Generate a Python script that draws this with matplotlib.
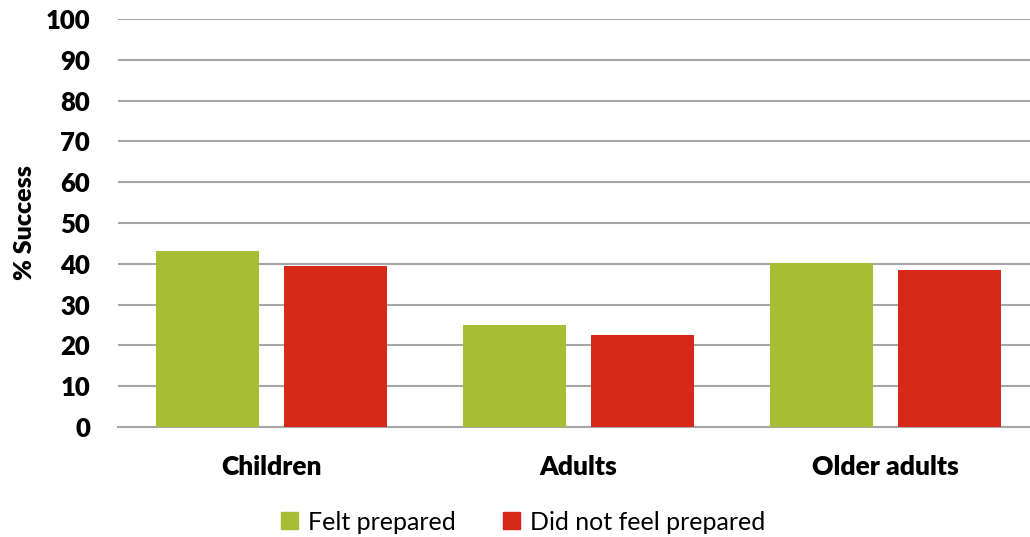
import matplotlib
matplotlib.use("Agg")
import matplotlib.pyplot as plt
import numpy as np
from matplotlib.patches import Patch

categories = ["Children", "Adults", "Older adults"]
felt_prepared = [43.2, 25.0, 40.3]
not_prepared = [39.5, 22.5, 38.6]
series_names = ["Felt prepared", "Did not feel prepared"]
y_ticks = [0, 10, 20, 30, 40, 50, 60, 70, 80, 90, 100]

green = "#A6BD34"
red = "#D62917"
grid_c = "#A6A6A6"

plt.rcParams['font.family'] = ['Lato', 'DejaVu Sans']

fig = plt.figure(figsize=(10.3, 5.37), dpi=100)
ax = fig.add_axes([118/1030, 110/537, 912/1030, 408/537])

x = np.arange(len(categories))
w = 0.335
off = 0.208
ax.bar(x - off, felt_prepared, w, color=green, zorder=3)
ax.bar(x + off, not_prepared, w, color=red, zorder=3)

ax.set_ylim(0, 100)
ax.set_xlim(-0.5, -0.5 + 912/307)
ax.set_yticks(y_ticks)
ax.set_yticklabels([str(t) for t in y_ticks], fontsize=18.5, fontweight='heavy')
ax.set_xticks(x)
ax.set_xticklabels(categories, fontsize=19, fontweight='heavy')
ax.tick_params(axis='y', length=0, pad=20)
ax.tick_params(axis='x', length=0, pad=20)
ax.yaxis.grid(True, color=grid_c, linewidth=1.5, zorder=0)
for s in ['left', 'right', 'top']:
    ax.spines[s].set_visible(False)
ax.spines['bottom'].set_color(grid_c)
ax.spines['bottom'].set_linewidth(1.5)
ax.set_ylabel("% Success", fontsize=18, fontweight='heavy', labelpad=7)

handles = [Patch(color=green), Patch(color=red)]
fig.legend(handles, series_names, loc='center', bbox_to_anchor=(523/1030, 1 - 522/537),
           ncol=2, frameon=False, fontsize=18, handlelength=0.68, handleheight=0.68,
           handletextpad=0.4, columnspacing=1.9)

fig.savefig("out.png", dpi=100)
